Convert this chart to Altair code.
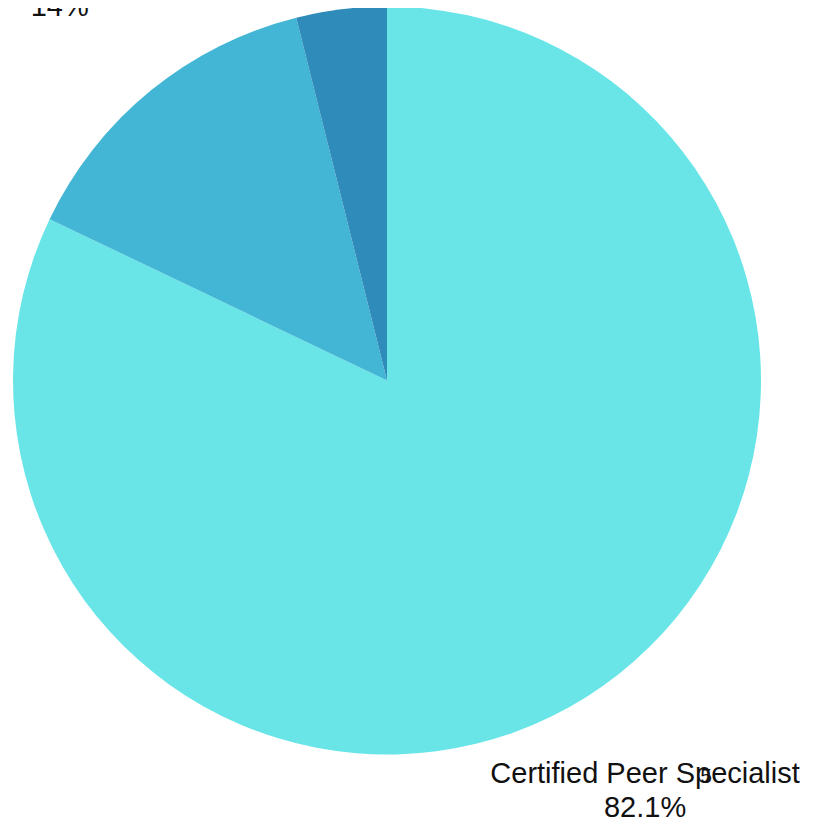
import altair as alt
import pandas as pd

categories = ["Certified Peer Specialist", "Other Peer Role", "Peer Supporter"]
values = [82.1, 14.0, 3.9]
labels = ["Certified Peer Specialist\n82.1%", "14%", ""]
colors = ["#69E5E8", "#42B6D4", "#2E8BBA"]

df = pd.DataFrame({
    "category": categories,
    "value": values,
    "label": labels,
    "order": [0, 1, 2],
})

CX, CY = 379, 372.5
theta_scale = alt.Scale(domain=[0, 100])

pie = alt.Chart(df).mark_arc(outerRadius=374, stroke=None).encode(
    theta=alt.Theta("value:Q", stack=True, scale=theta_scale),
    order=alt.Order("order:Q"),
    x=alt.value(CX),
    y=alt.value(CY),
    color=alt.Color("category:N", scale=alt.Scale(domain=categories, range=colors), legend=None),
)

lab = alt.Chart(df).transform_window(
    cum="sum(value)", sort=[alt.SortField("order")],
    frame=[None, 0],
).transform_calculate(
    mid="datum.cum - datum.value / 2"
).encode(
    theta=alt.Theta("mid:Q", stack=None, scale=theta_scale),
    x=alt.value(CX),
    y=alt.value(CY),
)

txt_style = dict(fontSize=29, font="Liberation Sans", color="#111111", lineBreak="\n",
                 lineHeight=34, baseline="middle", align="center")

text_main = lab.transform_filter(alt.datum.order == 0).mark_text(
    radius=469, dx=8, dy=-3, **txt_style
).encode(text="label:N")

text_14 = lab.transform_filter(alt.datum.order == 1).mark_text(
    radius=500, dx=-11, dy=14, **txt_style
).encode(text="label:N")

extra = lab.transform_filter(alt.datum.order == 0).mark_text(
    fontSize=21, font="Liberation Sans", color="#111111", radius=469, dx=69, dy=0,
    baseline="middle", align="center",
).encode(text=alt.value("5"))

chart = alt.layer(pie, text_main, text_14, extra).properties(
    width=806, height=812, padding=0,
    autosize=alt.AutoSizeParams(type="none"),
).configure_view(stroke=None)

chart.save("out.html", embed_options={"renderer": "svg", "actions": False})
